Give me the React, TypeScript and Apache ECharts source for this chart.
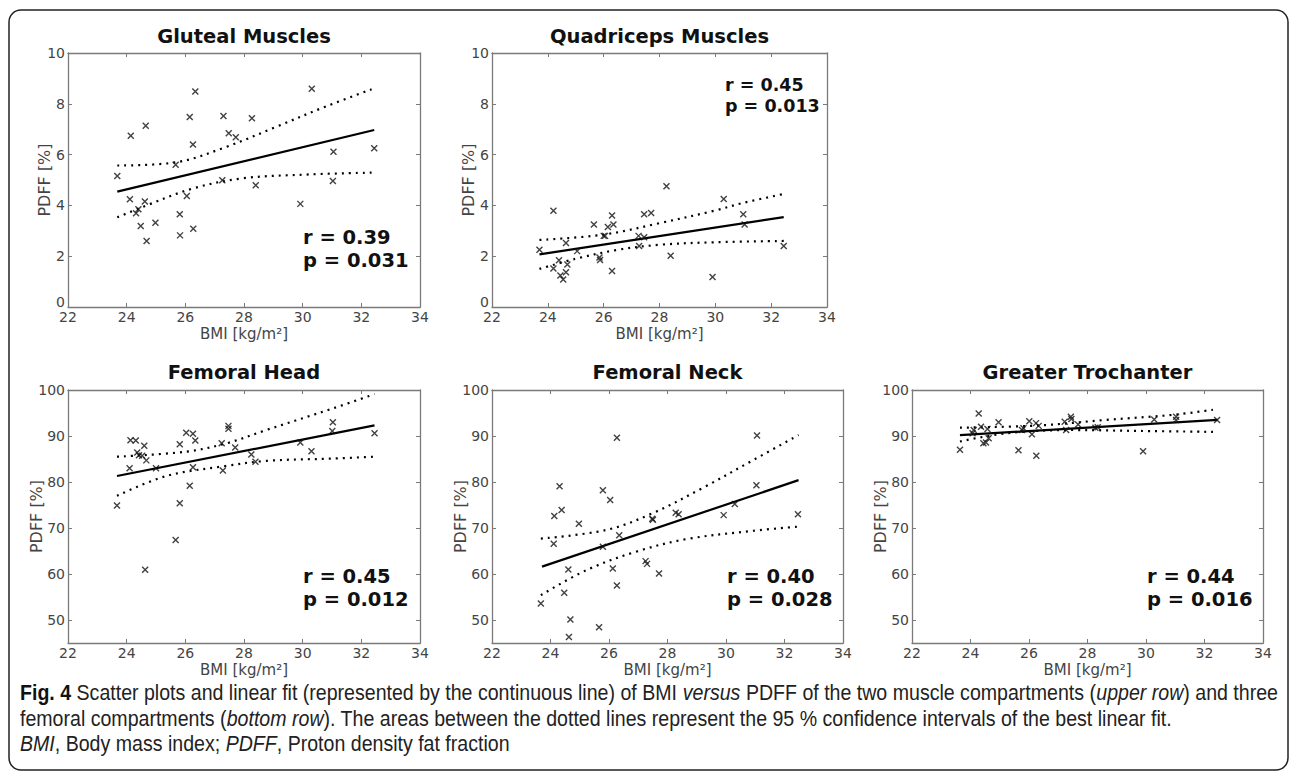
import React, { useEffect, useRef } from "react";
import * as echarts from "echarts";

// ---------- data (BMI [kg/m2], PDFF [%]) ----------
const bmiTicks = [22, 24, 26, 28, 30, 32, 34];
const topYTicks = [0, 2, 4, 6, 8, 10];
const bottomYTicks = [50, 60, 70, 80, 90, 100];

const glutealPts = [
  [23.68, 5.16], [24.11, 4.24], [24.14, 6.74], [24.32, 3.69], [24.4, 3.85], [24.48, 3.19],
  [24.62, 4.15], [24.65, 7.14], [24.68, 2.6], [24.98, 3.32], [25.67, 5.6], [25.81, 3.65],
  [25.82, 2.82], [26.05, 4.37], [26.15, 7.48], [26.26, 6.4], [26.27, 3.08], [26.34, 8.48],
  [27.26, 4.99], [27.3, 7.52], [27.48, 6.84], [27.72, 6.68], [28.27, 7.43], [28.4, 4.79],
  [29.92, 4.06], [30.31, 8.59], [31.05, 6.11], [31.03, 4.96], [32.44, 6.25],
];
const glutealFit = [[23.68, 4.54], [32.44, 6.97]];
const glutealUpper = [[23.68, 5.57], [25.7, 5.7], [27.41, 6.31], [29.11, 7.1], [30.82, 7.91], [32.35, 8.57]];
const glutealLower = [[23.68, 3.53], [24.57, 3.95], [26.27, 4.67], [27.98, 5.07], [30.25, 5.22], [32.35, 5.29]];

const quadPts = [
  [23.7, 2.25], [24.2, 1.52], [24.2, 3.79], [24.4, 1.84], [24.45, 1.24], [24.55, 1.08],
  [24.65, 2.52], [24.7, 1.67], [24.65, 1.37], [25.05, 2.2], [25.65, 3.25], [25.85, 1.95],
  [25.87, 1.85], [26.0, 2.8], [26.05, 2.8], [26.15, 3.15], [26.3, 3.6], [26.35, 3.25],
  [26.3, 1.42], [27.25, 2.8], [27.27, 2.4], [27.45, 2.75], [27.45, 3.65], [27.7, 3.7],
  [28.25, 4.75], [28.4, 2.02], [29.9, 1.18], [30.3, 4.25], [31.0, 3.65], [31.05, 3.25],
  [32.45, 2.4],
];
const quadFit = [[23.7, 2.07], [32.45, 3.54]];
const quadUpper = [[23.7, 2.64], [26.0, 2.85], [28.0, 3.3], [30.0, 3.8], [31.0, 4.1], [32.45, 4.45]];
const quadLower = [[23.7, 1.5], [25.0, 1.9], [26.5, 2.25], [28.0, 2.45], [30.0, 2.55], [32.45, 2.6]];

const headPts = [
  [23.67, 74.9], [24.1, 83.0], [24.13, 89.1], [24.31, 89.0], [24.36, 86.4], [24.42, 85.8],
  [24.53, 85.7], [24.6, 87.9], [24.67, 84.7], [24.63, 60.9], [25.0, 83.0], [25.67, 67.4],
  [25.81, 88.2], [25.81, 75.4], [26.03, 90.7], [26.15, 79.2], [26.26, 90.5], [26.26, 83.2],
  [26.34, 89.0], [27.24, 88.4], [27.28, 82.5], [27.47, 92.2], [27.47, 91.6], [27.7, 87.5],
  [28.25, 86.0], [28.39, 84.4], [29.92, 88.6], [30.3, 86.7], [31.03, 93.0], [31.01, 91.1],
  [32.45, 90.6],
];
const headFit = [[23.67, 81.3], [32.45, 92.3]];
const headUpper = [[23.67, 85.5], [26.03, 86.6], [27.4, 88.4], [28.76, 91.3], [31.03, 96.0], [32.45, 99.1]];
const headLower = [[23.67, 77.0], [25.35, 81.3], [27.4, 83.5], [28.76, 84.6], [31.03, 85.1], [32.45, 85.5]];

const neckPts = [
  [23.67, 53.6], [24.11, 66.6], [24.13, 72.6], [24.31, 79.1], [24.38, 73.9], [24.47, 55.9],
  [24.61, 61.0], [24.68, 50.1], [24.63, 46.3], [24.97, 70.9], [25.66, 48.4], [25.79, 78.2],
  [25.79, 65.9], [26.04, 76.1], [26.13, 61.2], [26.27, 89.6], [26.27, 57.5], [26.35, 68.4],
  [27.25, 62.8], [27.3, 62.2], [27.48, 72.0], [27.5, 71.8], [27.71, 60.1], [28.28, 73.3],
  [28.38, 73.0], [29.92, 72.8], [30.3, 75.2], [31.06, 90.1], [31.04, 79.3], [32.46, 73.0],
];
const neckFit = [[23.71, 61.6], [32.48, 80.4]];
const neckUpper = [[23.67, 67.7], [25.93, 69.6], [27.52, 73.3], [29.23, 78.8], [30.94, 84.8], [32.48, 90.2]];
const neckLower = [[23.67, 55.4], [25.25, 60.9], [26.95, 64.9], [28.66, 67.6], [30.94, 69.4], [32.48, 70.3]];

const trochPts = [
  [23.64, 87.0], [24.07, 90.6], [24.11, 91.3], [24.28, 94.9], [24.36, 92.0], [24.44, 88.4],
  [24.53, 88.6], [24.58, 91.5], [24.62, 89.5], [24.96, 93.0], [25.64, 86.9], [25.76, 91.3],
  [25.81, 91.7], [26.01, 93.2], [26.1, 90.4], [26.24, 92.8], [26.33, 92.2], [26.25, 85.7],
  [27.22, 93.1], [27.27, 91.3], [27.43, 94.2], [27.45, 93.7], [27.68, 92.5], [28.27, 91.8],
  [28.35, 91.9], [29.9, 86.7], [30.28, 93.6], [31.03, 94.2], [31.03, 93.5], [32.43, 93.5],
];
const trochFit = [[23.64, 90.2], [32.45, 93.5]];
const trochUpper = [[23.64, 91.8], [26.36, 92.3], [28.64, 93.5], [30.92, 94.6], [32.29, 95.7]];
const trochLower = [[23.64, 88.8], [25.22, 90.6], [27.5, 91.3], [29.78, 91.1], [32.29, 90.9]];

const titles = ["Gluteal Muscles", "Quadriceps Muscles", "Femoral Head", "Femoral Neck", "Greater Trochanter"];
const rTexts = ["r = 0.39", "r = 0.45", "r = 0.45", "r = 0.40", "r = 0.44"];
const pTexts = ["p = 0.031", "p = 0.013", "p = 0.012", "p = 0.028", "p = 0.016"];

const captionLines = [
  "{b|Fig. 4} Scatter plots and linear fit (represented by the continuous line) of BMI {i|versus} PDFF of the two muscle compartments ({i|upper row}) and three",
  "femoral compartments ({i|bottom row}). The areas between the dotted lines represent the 95 % confidence intervals of the best linear fit.",
  "{i|BMI}, Body mass index; {i|PDFF}, Proton density fat fraction",
];

// ---------- layout ----------
const FONT = "DejaVu Sans";
const CAP_FONT = "Liberation Sans";
const grids = [
  { left: 68, top: 53, width: 352, height: 254 },
  { left: 492, top: 53, width: 335, height: 254 },
  { left: 68, top: 390, width: 352, height: 253 },
  { left: 492, top: 390, width: 351, height: 253 },
  { left: 912, top: 390, width: 351, height: 253 },
];
// x = left edge, y = vertical centre of the two-line r/p block
const statPos = [
  { x: 303, y: 249, size: 19.5, gap: 23 },
  { x: 725, y: 95, size: 17.5, gap: 21 },
  { x: 303, y: 588, size: 19.5, gap: 23 },
  { x: 727, y: 588, size: 19.5, gap: 23 },
  { x: 1147, y: 588, size: 19.5, gap: 23 },
];

const panelData = [
  { pts: glutealPts, fit: glutealFit, up: glutealUpper, lo: glutealLower, top: true },
  { pts: quadPts, fit: quadFit, up: quadUpper, lo: quadLower, top: true },
  { pts: headPts, fit: headFit, up: headUpper, lo: headLower, top: false },
  { pts: neckPts, fit: neckFit, up: neckUpper, lo: neckLower, top: false },
  { pts: trochPts, fit: trochFit, up: trochUpper, lo: trochLower, top: false },
];

const AXIS_COLOR = "#7a7a7a";
const LABEL_COLOR = "#444";

function buildOption() {
  const xAxis: any[] = [];
  const yAxis: any[] = [];
  const series: any[] = [];
  const graphic: any[] = [];

  panelData.forEach((pd, i) => {
    const yMin = pd.top ? 0 : 45;
    const yMax = pd.top ? 10 : 100;
    const yVals = pd.top ? topYTicks : bottomYTicks;
    const tick = { show: true, inside: true, length: 4, lineStyle: { color: AXIS_COLOR, width: 1 } };
    const line = { show: true, onZero: false, lineStyle: { color: AXIS_COLOR, width: 1.3 } };
    // bottom x
    xAxis.push({
      type: "value", gridIndex: i, position: "bottom", min: bmiTicks[0], max: bmiTicks[bmiTicks.length - 1], interval: 2,
      axisLine: line, axisTick: tick, splitLine: { show: false },
      axisLabel: { color: LABEL_COLOR, fontSize: 14, lineHeight: 14, fontFamily: FONT, margin: 3 },
      name: "BMI [kg/m²]", nameLocation: "middle", nameGap: 19, nameMoveOverlap: false,
      nameTextStyle: { color: LABEL_COLOR, fontSize: 15, lineHeight: 15, fontFamily: FONT },
    });
    // top x (ticks only)
    xAxis.push({
      type: "value", gridIndex: i, position: "top", min: bmiTicks[0], max: bmiTicks[bmiTicks.length - 1], interval: 2,
      axisLine: line, axisTick: tick, axisLabel: { show: false }, splitLine: { show: false },
    });
    const yTick = pd.top ? tick : { ...tick, customValues: yVals };
    const yLabelBase: any = {
      color: LABEL_COLOR, fontSize: 14, lineHeight: 13, fontFamily: FONT, margin: 3,
      formatter: (v: number) => (v === 0 ? "{z|0}" : String(v)),
      rich: { z: { color: LABEL_COLOR, fontSize: 14, lineHeight: 13, fontFamily: FONT, padding: [0, 0, 10, 0] } },
    };
    yAxis.push({
      type: "value", gridIndex: i, position: "left", min: yMin, max: yMax,
      ...(pd.top ? { interval: 2 } : {}),
      axisLine: line, axisTick: yTick, splitLine: { show: false },
      axisLabel: pd.top ? yLabelBase : { ...yLabelBase, customValues: yVals },
      name: "PDFF [%]", nameLocation: "middle", nameGap: pd.top ? 16 : 24, nameMoveOverlap: false,
      nameTextStyle: { color: LABEL_COLOR, fontSize: 16, fontFamily: FONT },
    });
    yAxis.push({
      type: "value", gridIndex: i, position: "right", min: yMin, max: yMax,
      ...(pd.top ? { interval: 2 } : {}),
      axisLine: line, axisTick: yTick, axisLabel: { show: false }, splitLine: { show: false },
    });

    const xi = i * 2;
    const yi = i * 2;
    series.push({
      type: "scatter", xAxisIndex: xi, yAxisIndex: yi, data: pd.pts,
      symbol: "path://M0 0L10 10M10 0L0 10", symbolSize: 6,
      itemStyle: { color: "transparent", borderColor: "#111", borderWidth: 1.4 },
      z: 5,
    });
    series.push({
      type: "line", xAxisIndex: xi, yAxisIndex: yi, data: pd.fit, showSymbol: false,
      lineStyle: { color: "#000", width: 2.2 }, z: 4,
    });
    [pd.up, pd.lo].forEach((ci) => {
      series.push({
        type: "line", xAxisIndex: xi, yAxisIndex: yi, data: ci, showSymbol: false, smooth: 0.35,
        lineStyle: { color: "#000", width: 2.2, type: [2, 5], cap: "butt" }, z: 3,
      });
    });

    const g = grids[i];
    graphic.push({
      type: "text", x: g.left + g.width / 2, y: g.top - (i < 2 ? 17 : 18),
      style: { text: titles[i], align: "center", verticalAlign: "middle", fontSize: 19.5, fontWeight: "bold", fontFamily: FONT, fill: "#111" },
    });
    const sp = statPos[i];
    graphic.push({
      type: "text", x: sp.x, y: sp.y - sp.gap / 2,
      style: { text: rTexts[i], align: "left", verticalAlign: "middle", fontSize: sp.size, fontWeight: "bold", fontFamily: FONT, fill: "#111" },
    });
    graphic.push({
      type: "text", x: sp.x, y: sp.y + sp.gap / 2,
      style: { text: pTexts[i], align: "left", verticalAlign: "middle", fontSize: sp.size, fontWeight: "bold", fontFamily: FONT, fill: "#111" },
    });
  });

  // frame
  graphic.push({
    type: "rect", shape: { x: 9, y: 10, width: 1279, height: 760, r: 12 },
    style: { fill: "none", stroke: "#222", lineWidth: 1.5 }, z: -1,
  });
  // caption
  const capY = [692, 718, 743];
  captionLines.forEach((t, k) => {
    graphic.push({
      type: "text", x: 20, y: capY[k], scaleX: 0.89, scaleY: 1,
      style: {
        text: t, x: 0, y: 0, align: "left", verticalAlign: "middle", fontSize: 22, fontFamily: CAP_FONT, fill: "#222",
        rich: {
          b: { fontWeight: "bold", fontSize: 22, fontFamily: CAP_FONT, fill: "#111" },
          i: { fontStyle: "italic", fontSize: 22, fontFamily: CAP_FONT, fill: "#222" },
        },
      },
    });
  });

  return {
    animation: false,
    backgroundColor: "#fff",
    grid: grids.map((g) => ({ ...g, containLabel: false })),
    xAxis, yAxis, series, graphic,
  };
}

export default function App() {
  const ref = useRef<HTMLDivElement>(null);
  useEffect(() => {
    if (!ref.current) return;
    const chart = echarts.init(ref.current, undefined, { renderer: "svg" });
    chart.setOption(buildOption());
    return () => chart.dispose();
  }, []);
  return <div ref={ref} style={{ position: "fixed", left: 0, top: 0, width: 1290, height: 776, background: "#fff" }} />;
}
